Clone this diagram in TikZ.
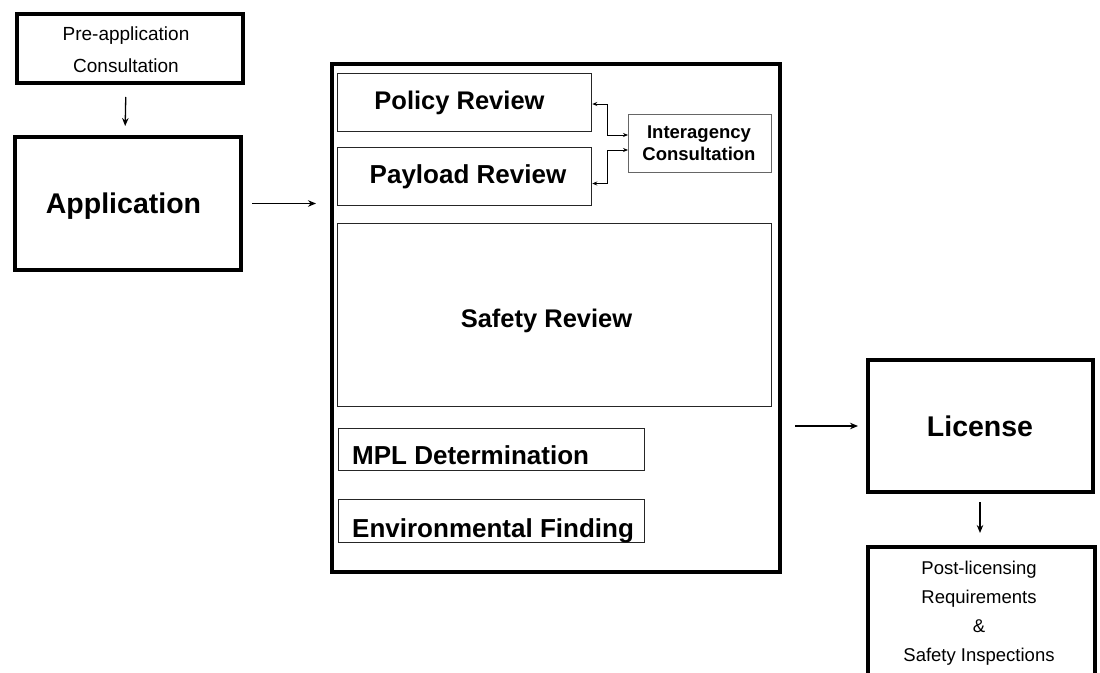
\documentclass[tikz,border=0pt]{standalone}
\usepackage{fontspec}
\setmainfont{Liberation Sans}
\usetikzlibrary{arrows.meta}
\begin{document}
\begin{tikzpicture}[x=1pt,y=-1pt,
  thickbox/.style={draw=black, line width=4pt, inner sep=0pt},
  thinbox/.style={draw=black!85, line width=1.5pt, inner sep=0pt},
  hairbox/.style={draw=black!60, line width=1pt, inner sep=0pt},
  arr/.style={-{Stealth[length=8pt,width=6.5pt]}, line width=1.3pt},
  twoway/.style={{Stealth[length=5pt,width=4pt]}-{Stealth[length=5pt,width=4pt]}, line width=1pt},
  txt/.style={inner sep=0pt, text=black}]
\clip (0,0) rectangle (1100,672);
\fill[white] (0,0) rectangle (1100,672);

% boxes
\node[thickbox, minimum width=226pt, minimum height=69pt] (pre) at (130,48.5) {};
\node[thickbox, minimum width=226pt, minimum height=133pt] (app) at (128,203.5) {};
\node[thickbox, minimum width=448pt, minimum height=508pt] (big) at (556,318) {};
\node[thinbox, minimum width=254pt, minimum height=58pt] (pol) at (464.5,102.5) {};
\node[thinbox, minimum width=254pt, minimum height=58pt] (pay) at (464.5,176.5) {};
\node[hairbox, minimum width=143pt, minimum height=58pt] (inter) at (700,143.5) {};
\node[thinbox, minimum width=434pt, minimum height=183pt] (saf) at (554.5,315) {};
\node[thinbox, minimum width=306pt, minimum height=42pt] (mpl) at (491.5,449.5) {};
\node[thinbox, minimum width=306pt, minimum height=43pt] (env) at (491.5,521) {};
\node[thickbox, minimum width=225pt, minimum height=132pt] (lic) at (980.5,426) {};
\node[thickbox, minimum width=227pt, minimum height=153pt] (post) at (981.5,623.5) {};

% texts
\node[txt, anchor=north, align=center, font=\fontsize{19}{32}\selectfont] (pretxt) at (126,27) {Pre-application\\Consultation};
\node[txt, anchor=base, font=\fontsize{28.5}{34}\selectfont\bfseries] (apptxt) at (123.5,213) {Application};
\node[txt, anchor=base, font=\fontsize{25.5}{30}\selectfont\bfseries] (poltxt) at (459.5,109) {Policy Review};
\node[txt, anchor=base, font=\fontsize{26}{30}\selectfont\bfseries] (paytxt) at (468,183) {Payload Review};
\node[txt, anchor=north, align=center, font=\fontsize{18.5}{22}\selectfont\bfseries] (intertxt) at (699,126) {Interagency\\Consultation};
\node[txt, anchor=base, font=\fontsize{25.5}{30}\selectfont\bfseries] (saftxt) at (546.5,327) {Safety Review};
\node[txt, anchor=base west, font=\fontsize{26}{30}\selectfont\bfseries] (mpltxt) at (352,464) {MPL Determination};
\node[txt, anchor=base west, font=\fontsize{26}{30}\selectfont\bfseries] (envtxt) at (352,537) {Environmental Finding};
\node[txt, anchor=base, font=\fontsize{28.5}{34}\selectfont\bfseries] (lictxt) at (980,436) {License};
\node[txt, anchor=north, align=center, font=\fontsize{18.5}{29}\selectfont] (posttxt) at (979,561) {Post-licensing\\Requirements\\\&\\Safety Inspections};

% connectors
\draw[arr, shorten <=12pt, shorten >=9pt] ([xshift=-4pt]pre.south) -- ([xshift=-3pt]app.north);
\draw[arr, shorten <=9pt, shorten >=14pt] (app.east) -- (app.east -| big.west);
\draw[arr, shorten <=13pt, shorten >=8pt] (lic.west -| big.east) -- (lic.west);
\draw[arr, shorten <=8pt, shorten >=12pt] ([xshift=-0.5pt]lic.south) -- ([xshift=-1.5pt]post.north);
\draw[twoway] ([yshift=-1.5pt]pol.east) -- ++(15,0) |- ([yshift=8.5pt]inter.west);
\draw[twoway] ([yshift=-7pt]pay.east) -- ++(15,0) |- ([yshift=-6.5pt]inter.west);
\end{tikzpicture}
\end{document}
